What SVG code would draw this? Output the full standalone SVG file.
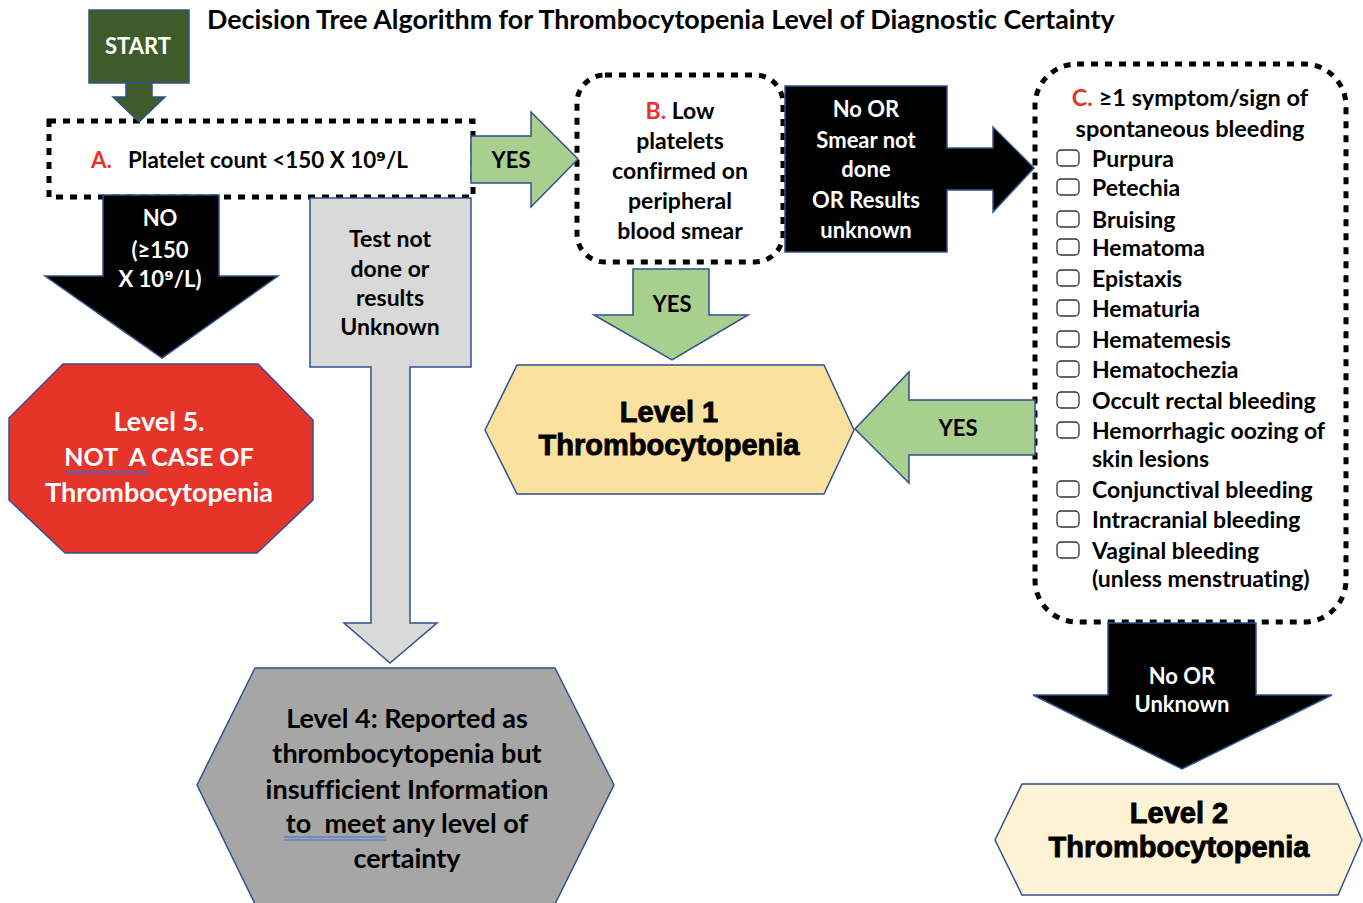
<svg xmlns="http://www.w3.org/2000/svg" width="1363" height="903" viewBox="0 0 1363 903">
<style>
.f{font-family:Lato,"Liberation Sans",sans-serif;font-weight:700;font-size:23px;font-variant-ligatures:none}
.s{font-size:22px}
.c{text-anchor:middle}
.w{fill:#ffffff}
.k{fill:#000000}
.r{fill:#e8322a}
.sup{font-family:"DejaVu Sans",sans-serif;font-weight:700}
.big{font-size:27px}
.h{font-family:"Liberation Sans",Arial,sans-serif;font-weight:700;font-size:29px;stroke:#000;stroke-width:0.9;text-anchor:middle;fill:#000}
.dot{fill:none;stroke:#000;stroke-width:5;stroke-dasharray:7 7}
.ol{stroke:#2f528f;stroke-width:1.5}
.cb{fill:#fff;stroke:#333;stroke-width:1.3}
.ul{stroke:#3b6fd6;stroke-width:1.2}
</style>
<rect width="1363" height="903" fill="#ffffff"/>
<g id="title"><text class="f" x="207" y="29" style="font-size:26.8px">Decision Tree Algorithm for Thrombocytopenia Level of Diagnostic Certainty</text></g>
<g id="start">
<rect x="89" y="10" width="100" height="73" fill="#3f5b2a" class="ol"/>
<text class="f s c w" x="138" y="54">START</text>
</g>
<g id="nodeA">
<rect x="49" y="121" width="424" height="76" class="dot"/>
<text class="f" x="91" y="168" style="font-size:22.4px"><tspan class="r">A.</tspan><tspan x="128">Platelet count &lt;150 X 10</tspan><tspan class="sup">⁹</tspan>/L</text>
</g>
<g id="nodeB">
<rect x="577" y="75" width="206" height="187" rx="28" class="dot"/>
<text class="f c" x="680" y="119"><tspan class="r">B.</tspan> Low</text>
<text class="f c" x="680" y="149">platelets</text>
<text class="f c" x="680" y="179">confirmed on</text>
<text class="f c" x="680" y="209">peripheral</text>
<text class="f c" x="680" y="239">blood smear</text>
</g>
<g id="nodeC">
<rect x="1035" y="64" width="311" height="558" rx="42" class="dot"/>
<text class="f c" x="1190" y="106" style="font-size:23.5px"><tspan class="r">C.</tspan> ≥1 symptom/sign of</text>
<text class="f c" x="1190" y="137" style="font-size:23.5px">spontaneous bleeding</text>
<g>
<rect x="1057" y="150" width="22" height="16" rx="4" class="cb"/>
<rect x="1057" y="179" width="22" height="16" rx="4" class="cb"/>
<rect x="1057" y="211" width="22" height="16" rx="4" class="cb"/>
<rect x="1057" y="239" width="22" height="16" rx="4" class="cb"/>
<rect x="1057" y="270" width="22" height="16" rx="4" class="cb"/>
<rect x="1057" y="300" width="22" height="16" rx="4" class="cb"/>
<rect x="1057" y="331" width="22" height="16" rx="4" class="cb"/>
<rect x="1057" y="361" width="22" height="16" rx="4" class="cb"/>
<rect x="1057" y="392" width="22" height="16" rx="4" class="cb"/>
<rect x="1057" y="422" width="22" height="16" rx="4" class="cb"/>
<rect x="1057" y="481" width="22" height="16" rx="4" class="cb"/>
<rect x="1057" y="511" width="22" height="16" rx="4" class="cb"/>
<rect x="1057" y="542" width="22" height="16" rx="4" class="cb"/>
</g>
<text class="f" x="1092" y="167">Purpura</text>
<text class="f" x="1092" y="196">Petechia</text>
<text class="f" x="1092" y="228">Bruising</text>
<text class="f" x="1092" y="256">Hematoma</text>
<text class="f" x="1092" y="287">Epistaxis</text>
<text class="f" x="1092" y="317">Hematuria</text>
<text class="f" x="1092" y="348">Hematemesis</text>
<text class="f" x="1092" y="378">Hematochezia</text>
<text class="f" x="1092" y="409">Occult rectal bleeding</text>
<text class="f" x="1092" y="439">Hemorrhagic oozing of</text>
<text class="f" x="1092" y="467">skin lesions</text>
<text class="f" x="1092" y="498">Conjunctival bleeding</text>
<text class="f" x="1092" y="528">Intracranial bleeding</text>
<text class="f" x="1092" y="559">Vaginal bleeding</text>
<text class="f" x="1092" y="587">(unless menstruating)</text>
</g>
<g id="level1">
<polygon points="485,430 517,365 824,365 854,430 824,494 517,494" fill="#fae29e" class="ol"/>
<text class="h" x="669" y="422">Level 1</text>
<text class="h" x="669" y="455">Thrombocytopenia</text>
</g>
<g id="level2">
<polygon points="995,840 1022,784 1338,784 1362,840 1338,895 1022,895" fill="#fdf2d4" class="ol"/>
<text class="h" x="1179" y="823">Level 2</text>
<text class="h" x="1179" y="857">Thrombocytopenia</text>
</g>
<g id="level4">
<polygon points="197,785 255,668 555,668 614,785 555,904 255,904" fill="#a6a6a6" class="ol"/>
<text class="f c big k" x="407" y="728">Level 4: Reported as</text>
<text class="f c big k" x="407" y="763">thrombocytopenia but</text>
<text class="f c big k" x="407" y="799">insufficient Information</text>
<text class="f c big k" x="407" y="833" xml:space="preserve">to  meet any level of</text>
<text class="f c big k" x="407" y="868">certainty</text>
<line x1="284" y1="837" x2="386" y2="837" class="ul"/>
<line x1="284" y1="840" x2="386" y2="840" class="ul"/>
</g>
<g id="level5">
<polygon points="63,364 258,364 313,420 313,500 257,553 65,553 9,500 9,418" fill="#e6342a" class="ol"/>
<text class="f c big w" x="159" y="431">Level 5.</text>
<text class="f c w" x="159" y="466" style="font-size:25px" xml:space="preserve">NOT  A CASE OF</text>
<text class="f c big w" x="159" y="502">Thrombocytopenia</text>
<line x1="66" y1="471" x2="149" y2="471" class="ul"/>
<line x1="66" y1="474" x2="149" y2="474" class="ul"/>
</g>
<g id="connectors">
<g id="arrow-start-a">
<polygon points="126,83 152,83 152,97 165,97 139,122 113,97 126,97" fill="#3f5b2a" class="ol"/>
</g>
<g id="arrow-a-b">
<polygon points="471,136 531,136 531,112 578,159 531,207 531,183 471,183" fill="#a9cf8f" class="ol"/>
<text class="f s c k" x="511" y="168">YES</text>
</g>
<g id="arrow-a-level5">
<polygon points="103,195 219,195 219,276 278,276 162,358 45,276 103,276" fill="#000" class="ol"/>
<text class="f s c w" x="160" y="226">NO</text>
<text class="f s c w" x="160" y="258">(≥150</text>
<text class="f s c w" x="160" y="287">X 10<tspan class="sup">⁹</tspan>/L)</text>
</g>
<g id="arrow-a-level4">
<polygon points="310,198 471,198 471,367 410,367 410,623 437,623 390,663 344,623 371,623 371,367 310,367" fill="#d9d9d9" class="ol"/>
<text class="f c k" x="390" y="247">Test not</text>
<text class="f c k" x="390" y="277">done or</text>
<text class="f c k" x="390" y="306">results</text>
<text class="f c k" x="390" y="335">Unknown</text>
</g>
<g id="arrow-b-c">
<polygon points="785,86 947,86 947,148 993,148 993,127 1034,168 993,212 993,190 947,190 947,252 785,252" fill="#000" class="ol"/>
<text class="f s c w" x="866" y="117">No OR</text>
<text class="f s c w" x="866" y="148">Smear not</text>
<text class="f s c w" x="866" y="177">done</text>
<text class="f s c w" x="866" y="208">OR Results</text>
<text class="f s c w" x="866" y="238">unknown</text>
</g>
<g id="arrow-b-level1">
<polygon points="633,269 709,269 709,315 748,315 672,360 594,315 633,315" fill="#a9cf8f" class="ol"/>
<text class="f s c k" x="672" y="312">YES</text>
</g>
<g id="arrow-c-level1">
<polygon points="1035,400 909,400 909,372 855,429 909,483 909,455 1035,455" fill="#a9cf8f" class="ol"/>
<text class="f s c k" x="958" y="436">YES</text>
</g>
<g id="arrow-c-level2">
<polygon points="1108,623 1256,623 1256,695 1332,695 1182,769 1033,695 1108,695" fill="#000" class="ol"/>
<text class="f s c w" x="1182" y="684">No OR</text>
<text class="f s c w" x="1182" y="712">Unknown</text>
</g>
</g>
</svg>
